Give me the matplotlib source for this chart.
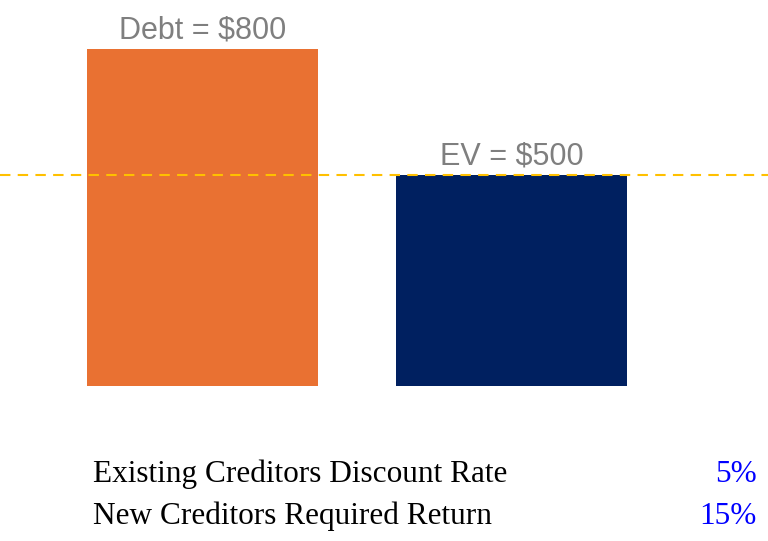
import matplotlib.pyplot as plt

# data
labels = ["Debt", "EV"]
values = [800, 500]
bar_colors = ["#E97132", "#002060"]
rate_names = ["Existing Creditors Discount Rate", "New Creditors Required Return"]
rate_values = ["5%", "15%"]

W, H = 768, 541
fig = plt.figure(figsize=(W / 100, H / 100), dpi=100)

# axes spans full width, bottom at bar base
ax = fig.add_axes([0, (H - 386) / H, 1, 386 / H])
x = [0, 1]
ax.bar(x, values, width=0.75, color=bar_colors)
ax.set_xlim(-202.5 / 309, (768 - 202.5) / 309)
ax.set_ylim(0, 386 / (337 / 800))
ax.axhline(values[1], color="#FFC000", lw=1.5, ls=(0, (5, 3.5)), zorder=3)
ax.axis("off")

for xi, lab, v in zip(x, labels, values):
    ax.annotate(f"{lab} = ${v}", (xi, v), xytext=(0, 7.5), textcoords="offset points",
                ha="center", va="baseline", fontsize=22, color="#7F7F7F",
                family="Liberation Sans")

# bottom table
for i, (name, val) in enumerate(zip(rate_names, rate_values)):
    yb = 1 - (482 + i * 42) / H
    fig.text(93 / W, yb, name, ha="left", va="baseline", fontsize=22.5,
             family="Liberation Serif", color="black")
    fig.text(757 / W, yb, val, ha="right", va="baseline", fontsize=22.5,
             family="Liberation Serif", color="#0000FF")

fig.savefig("out.png", dpi=100)
